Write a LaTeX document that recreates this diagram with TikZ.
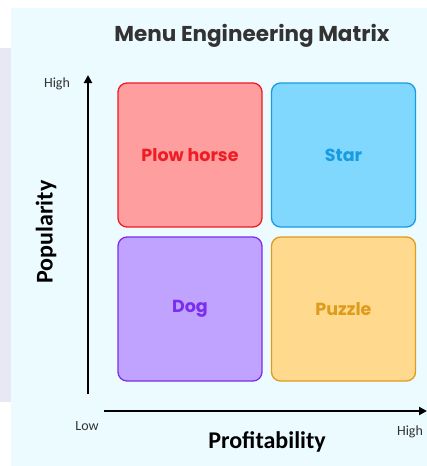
\documentclass[tikz,border=0pt]{standalone}
\usepackage{fontspec}
\setmainfont{Carlito}
\newfontfamily\geo{Poppins}
\usetikzlibrary{arrows.meta}
\definecolor{panel}{HTML}{ECFBFF}
\definecolor{band}{HTML}{E6E9F4}
\definecolor{titlegray}{HTML}{333333}
\definecolor{redfill}{HTML}{FF9E9E}
\definecolor{redline}{HTML}{EE1C24}
\definecolor{bluefill}{HTML}{80D8FF}
\definecolor{blueline}{HTML}{1A9BE0}
\definecolor{purplefill}{HTML}{C0A2FF}
\definecolor{purpleline}{HTML}{7A2EEE}
\definecolor{orangefill}{HTML}{FFD98E}
\definecolor{orangeline}{HTML}{DE9C1C}
\tikzset{
  quad/.style={rounded corners=9pt, line width=1.3pt, minimum width=144pt, minimum height=144pt,
    font=\geo\bfseries\fontsize{17.5}{20}\selectfont},
  axisline/.style={line width=2.4pt, -{Triangle[length=8pt,width=8pt]}},
  ticklbl/.style={font=\fontsize{14}{16}\selectfont, text=titlegray},
  axislbl/.style={font=\bfseries\fontsize{24}{28}\selectfont},
}
\begin{document}
\begin{tikzpicture}[x=1pt,y=-1pt]
  \useasboundingbox (0,0) rectangle (427,466);
  \fill[white] (0,0) rectangle (427,466);
  % soft band at the left edge and the light panel
  \fill[band] (0,48) rectangle (12,402);
  \fill[panel] (11,8) rectangle (427,466);

  \node[text=titlegray, font=\geo\bfseries\fontsize{21.5}{24}\selectfont] (title) at (252,36) {Menu Engineering Matrix};

  % quadrants
  \node[quad, fill=redfill, draw=redline, text=redline] (plow) at (190,155) {Plow horse};
  \node[quad, fill=bluefill, draw=blueline, text=blueline] (star) at (343.5,155) {Star};
  \node[quad, fill=purplefill, draw=purpleline, text=purpleline] (dog) at (190,309) {Dog};
  \node[quad, fill=orangefill, draw=orangeline, text=orangeline] (puzzle) at (343.5,309) {Puzzle};

  % axes
  \coordinate (ybot) at (88,394);
  \coordinate (ytop) at (88,75);
  \coordinate (xleft) at (104,411);
  \coordinate (xright) at (427,411);
  \draw[axisline] (ybot) -- (ytop);
  \draw[axisline] (xleft) -- (xright);

  \node[ticklbl] (yhigh) at (57,84) {High};
  \node[ticklbl] (xlow) at (87,426) {Low};
  \node[ticklbl] (xhigh) at (410,432) {High};
  \node[axislbl] (xlabel) at (267,442) {Profitability};
  \node[axislbl, rotate=90] (ylabel) at (46,232) {Popularity};
\end{tikzpicture}
\end{document}
